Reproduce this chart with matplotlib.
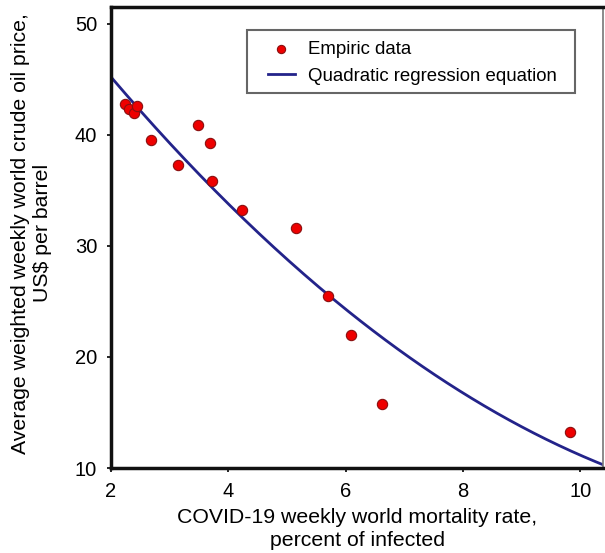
import numpy as np
import matplotlib
matplotlib.use("Agg")
import matplotlib.pyplot as plt
from matplotlib.patches import Rectangle

plt.rcParams['font.family'] = ['Liberation Sans', 'DejaVu Sans']

# Empirical data: COVID-19 weekly world mortality rate (%) vs oil price (US$/barrel)
mortality = [2.23, 2.31, 2.40, 2.45, 2.68, 3.14, 3.49, 3.68, 3.73, 4.23, 5.16, 5.70, 6.09, 6.62, 9.83]
oil_price = [42.8, 42.3, 41.95, 42.55, 39.55, 37.3, 40.85, 39.25, 35.85, 33.25, 31.65, 25.5, 22.0, 15.75, 13.25]

# Quadratic regression coefficients (y = c0 + c1*(x-2) + c2*(x-2)^2)
reg_coef = [45.2, -6.194, 0.2424]
x_ticks = [2, 4, 6, 8, 10]
y_ticks = [10, 20, 30, 40, 50]

fig = plt.figure(figsize=(6.05, 5.53), dpi=100)
ax = fig.add_axes([0.1835, 0.1537, 0.8132, 0.8336])

xs = np.linspace(2, 10.39, 200)
ys = reg_coef[0] + reg_coef[1] * (xs - 2) + reg_coef[2] * (xs - 2) ** 2

ax.scatter(mortality, oil_price, s=55, c='#ee0000', edgecolors='#8a1010', linewidths=0.8,
           zorder=3, label='Empiric data')
ax.plot(xs, ys, color='#23238a', lw=2.0, zorder=2, label='Quadratic regression equation')

ax.set_xlim(2, 10.39)
ax.set_ylim(10, 51.5)
ax.set_xticks(x_ticks)
ax.set_yticks(y_ticks)
ax.tick_params(direction='out', length=3, width=1.2, labelsize=14.5, pad=7)

for s in ['left', 'bottom', 'top']:
    ax.spines[s].set_linewidth(2.5)
    ax.spines[s].set_color('#111111')
ax.spines['right'].set_linewidth(1.2)
ax.spines['right'].set_color('#777777')

ax.set_xlabel('COVID-19 weekly world mortality rate,\npercent of infected', fontsize=15.3,
              labelpad=5, linespacing=1.25)
ax.set_ylabel('Average weighted weekly world crude oil price,\nUS$ per barrel', fontsize=15.3,
              labelpad=16.5, linespacing=1.2)
ax.yaxis.label.set_y(0.509)

# legend frame drawn as a plain rectangle (wider side padding than top/bottom)
ax.add_patch(Rectangle((0.2764, 0.8134), 0.6667, 0.1366, transform=ax.transAxes,
                       facecolor='white', edgecolor='#666666', lw=1.5, zorder=4))
leg = ax.legend(loc='upper left', bbox_to_anchor=(0.319, 0.927), borderaxespad=0,
                fontsize=13.4, frameon=False, handlelength=1.45, borderpad=0,
                labelspacing=0.55, handletextpad=0.7, markerscale=0.8)
leg.set_zorder(5)

fig.savefig('out.png', dpi=100)
